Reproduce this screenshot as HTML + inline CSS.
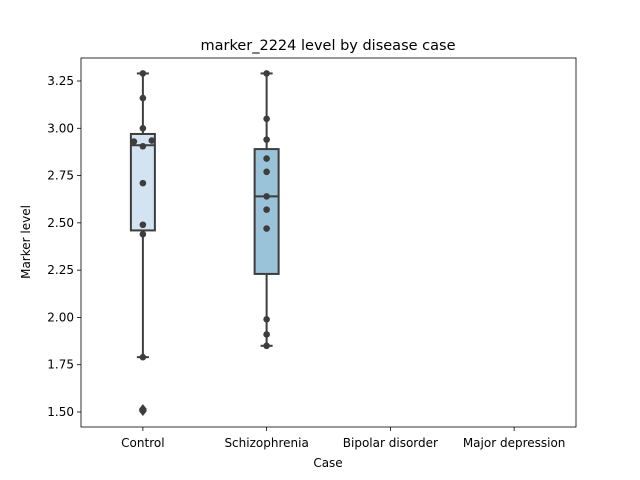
<!DOCTYPE html>
<html><head><meta charset="utf-8"><style>
html,body{margin:0;padding:0;background:#fff;}
svg{display:block;font-family:"DejaVu Sans","Liberation Sans",sans-serif;}
</style></head><body>
<svg id="chart" width="640" height="480"></svg>
<script>
const categories = ["Control","Schizophrenia","Bipolar disorder","Major depression"];
const q1s = [2.46, 2.23, null, null];
const q3s = [2.97, 2.89, null, null];
const medians = [2.91, 2.64, null, null];
const whiskerLows = [1.79, 1.85, null, null];
const whiskerHighs = [3.29, 3.29, null, null];
const outliers = [[1.515, 1.505], [], [], []];
const controlPoints = [3.29, 3.16, 3.00, 2.93, 2.935, 2.905, 2.71, 2.49, 2.44, 1.79];
const controlOffsets = [0, 0, 0, -1, 1, 0, 0, 0, 0, 0];
const schizPoints = [3.29, 3.05, 2.94, 2.84, 2.77, 2.64, 2.57, 2.47, 1.99, 1.91, 1.85];
const schizOffsets = [0,0,0,0,0,0,0,0,0,0,0];
const yTicks = [1.50, 1.75, 2.00, 2.25, 2.50, 2.75, 3.00, 3.25];
const boxColors = ["#d4e3f1", "#9ac2d9", "#5a9fcb", "#2a6fb0"];

const NS = "http://www.w3.org/2000/svg";
const svg = document.getElementById("chart");
const L = 81, R = 576, T = 58, B = 427;
function yS(v){ return 81 + (3.25 - v) * (331 / 1.75); }
function xS(i){ return L + (R - L) / categories.length * (i + 0.5); }
function mk(tag, attrs, parent){ const e = document.createElementNS(NS, tag); for (const k in attrs) e.setAttribute(k, attrs[k]); (parent||svg).appendChild(e); return e; }
const ink = "#3d3d3d";

// title
let t = mk("text", {x: 328, y: 50, "text-anchor": "middle", "font-size": 14.5, fill: "#000"});
t.textContent = "marker_2224 level by disease case";



// y ticks
yTicks.forEach(v => {
  const y = yS(v);
  const ln = mk("line", {x1: L - 4, x2: L, y1: y, y2: y, stroke: "#000", "stroke-width": 0.8});
  
  
  const tx = mk("text", {x: L - 7, y: y + 4, "text-anchor": "end", "font-size": 12, fill: "#000"});
  tx.textContent = v.toFixed(2);
  
  
});
// x ticks
categories.forEach((c, i) => {
  const x = xS(i);
  const ln = mk("line", {x1: x, x2: x, y1: B, y2: B + 4, stroke: "#000", "stroke-width": 0.8});
  
  
  const tx = mk("text", {x: x, y: B + 20, "text-anchor": "middle", "font-size": 12, fill: "#000"});
  tx.textContent = c;
  
  
});
let xl = mk("text", {x: 328, y: 467, "text-anchor": "middle", "font-size": 12, fill: "#000"});
xl.textContent = "Case";


let yl = mk("text", {x: 0, y: 0, transform: "translate(30,242) rotate(-90)", "text-anchor": "middle", "font-size": 12, fill: "#000"});
yl.textContent = "Marker level";



// boxes
const bw = 24;
categories.forEach((c, i) => {
  if (q1s[i] == null) return;
  const x = xS(i);
  const g = mk("g", {});
  
  
  mk("line", {x1: x, x2: x, y1: yS(whiskerHighs[i]), y2: yS(q3s[i]), stroke: ink, "stroke-width": 2}, g);
  mk("line", {x1: x, x2: x, y1: yS(q1s[i]), y2: yS(whiskerLows[i]), stroke: ink, "stroke-width": 2}, g);
  mk("line", {x1: x - 6, x2: x + 6, y1: yS(whiskerHighs[i]), y2: yS(whiskerHighs[i]), stroke: ink, "stroke-width": 2}, g);
  mk("line", {x1: x - 6, x2: x + 6, y1: yS(whiskerLows[i]), y2: yS(whiskerLows[i]), stroke: ink, "stroke-width": 2}, g);
  mk("rect", {x: x - bw/2, y: yS(q3s[i]), width: bw, height: yS(q1s[i]) - yS(q3s[i]), fill: boxColors[i], stroke: ink, "stroke-width": 2}, g);
  mk("line", {x1: x - bw/2, x2: x + bw/2, y1: yS(medians[i]), y2: yS(medians[i]), stroke: ink, "stroke-width": 2}, g);
  outliers[i].forEach(v => {
    const y = yS(v);
    const d = mk("path", {d: `M${x} ${y-5} L${x+4} ${y} L${x} ${y+5} L${x-4} ${y} Z`, fill: ink}, g);
    
    
  });
});
// swarm points
function drawPts(vals, offs, i){
  vals.forEach((v, k) => {
    const c = mk("circle", {cx: xS(i) + offs[k] * 9, cy: yS(v), r: 3.3, fill: ink});
    
    
  });
}
drawPts(controlPoints, controlOffsets, 0);
drawPts(schizPoints, schizOffsets, 1);

// frame
const fr = mk("rect", {x: L, y: T, width: R - L, height: B - T, fill: "none", stroke: "#000", "stroke-width": 0.8});


</script>
</body></html>
